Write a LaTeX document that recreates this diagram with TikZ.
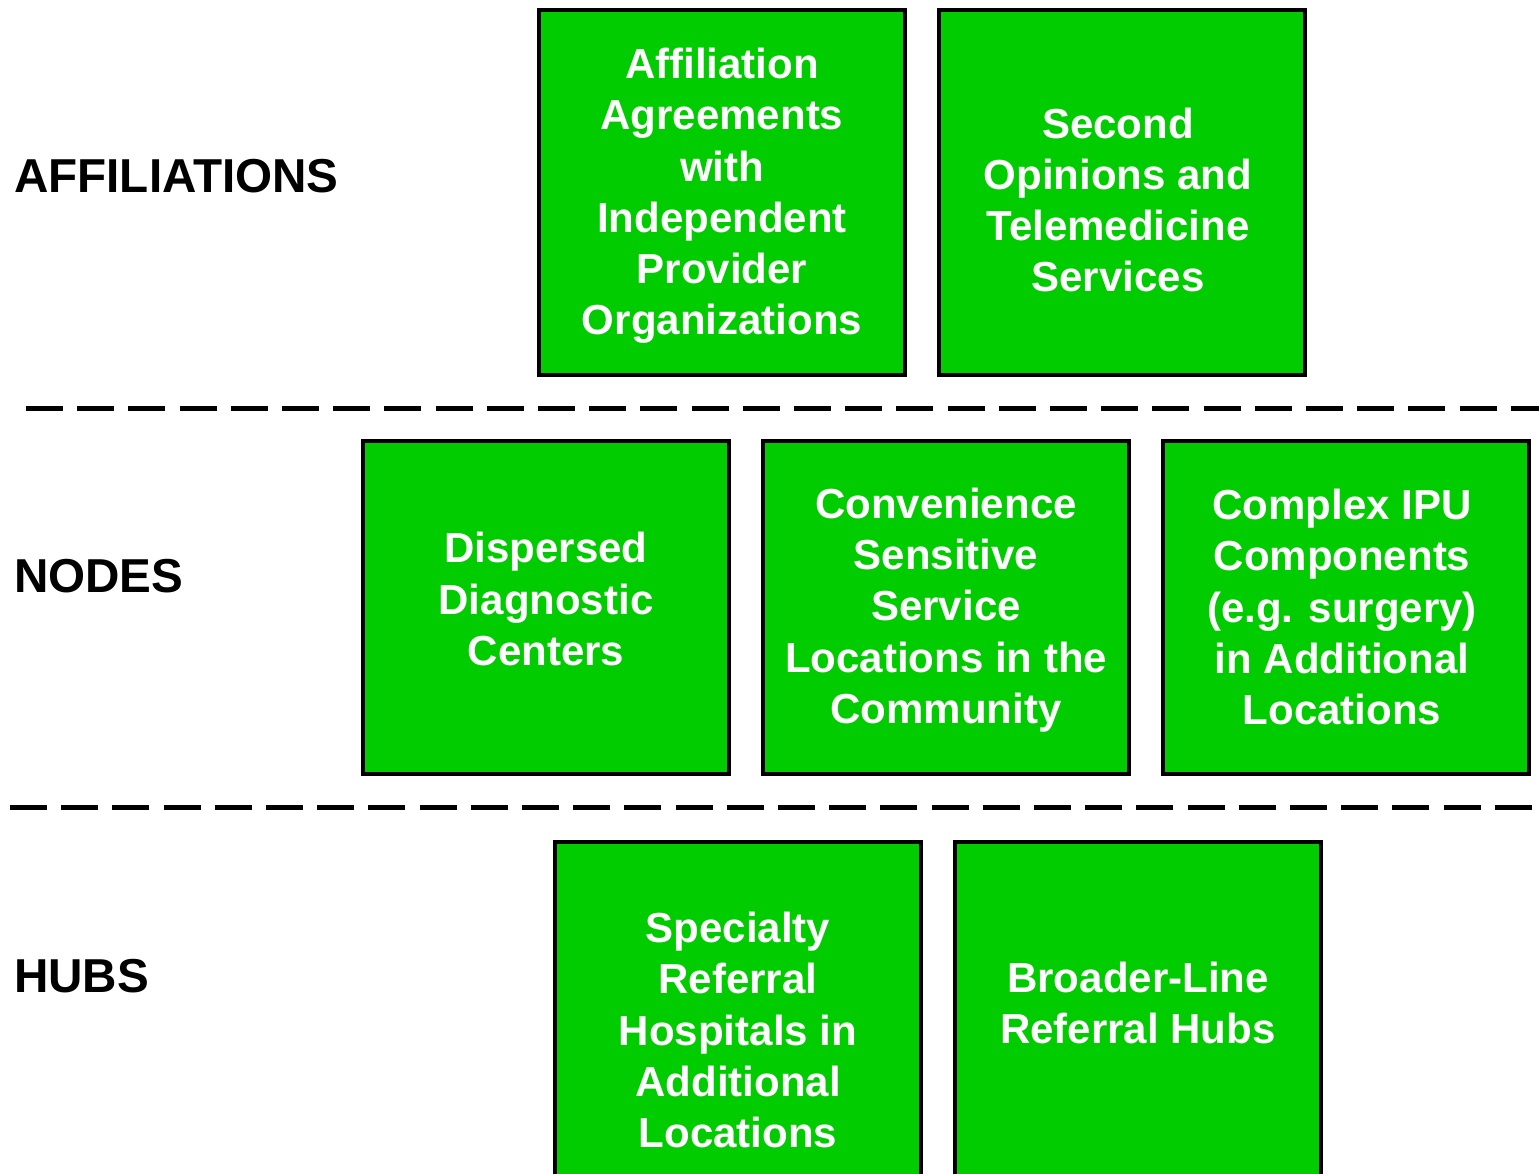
\documentclass[tikz,border=0pt]{standalone}
\usepackage{fontspec}
\setmainfont{Liberation Sans}
\definecolor{boxgreen}{RGB}{0,204,0}
\tikzset{
  gbox/.style={draw=black, line width=4.5pt, fill=boxgreen, rectangle, inner sep=0pt, outer sep=0pt,
    minimum width=366pt, anchor=north west},
  btext/.style={text=white, font=\bfseries\fontsize{42}{51.2}\selectfont, align=center, inner sep=0pt},
  rowlabel/.style={text=black, font=\bfseries\fontsize{47.6}{56}\selectfont, anchor=west, inner sep=0pt},
  sep/.style={draw=black, line width=5pt, dash pattern=on 37pt off 14.2pt}
}
\begin{document}
\begin{tikzpicture}[x=1pt, y=-1pt]
\useasboundingbox (0,0) rectangle (1539,1174);
\clip (0,0) rectangle (1539,1174);
% row labels
\node[rowlabel] (laff) at (14,176) {AFFILIATIONS};
\node[rowlabel] (lnod) at (14,576) {NODES};
\node[rowlabel] (lhub) at (14,976) {HUBS};
% separators
\coordinate (s1a) at (26,408); \coordinate (s1b) at (1560,408);
\coordinate (s2a) at (10,807); \coordinate (s2b) at (1560,807);
\draw[sep] (s1a) -- (s1b);
\draw[sep] (s2a) -- (s2b);
% top row
\node[gbox, minimum height=365pt] (b1) at (539,10) {};
\node[gbox, minimum height=365pt] (b2) at (939,10) {};
\node[btext] (t1) at (722,196) {Affiliation\\Agreements\\with\\Independent\\Provider\\Organizations};
\node[btext] (t2) at (1118,200) {Second\\Opinions and\\Telemedicine\\Services};
% middle row
\node[gbox, minimum height=333pt] (b3) at (363,441) {};
\node[gbox, minimum height=333pt] (b4) at (763,441) {};
\node[gbox, minimum height=333pt] (b5) at (1163,441) {};
\node[btext] (t3) at (546,599) {Dispersed\\Diagnostic\\Centers};
\node[btext] (t4) at (946,610) {Convenience\\Sensitive\\Service\\Locations in the\\Community};
\node[btext] (t5) at (1342,607) {Complex IPU\\Components\\(e.g. surgery)\\in Additional\\Locations};
% bottom row
\node[gbox, minimum height=380pt] (b6) at (555,842) {};
\node[gbox, minimum height=380pt] (b7) at (955,842) {};
\node[btext] (t6) at (738,1030) {Specialty\\Referral\\Hospitals in\\Additional\\Locations};
\node[btext] (t7) at (1138,1003) {Broader-Line\\Referral Hubs};
\end{tikzpicture}
\end{document}
